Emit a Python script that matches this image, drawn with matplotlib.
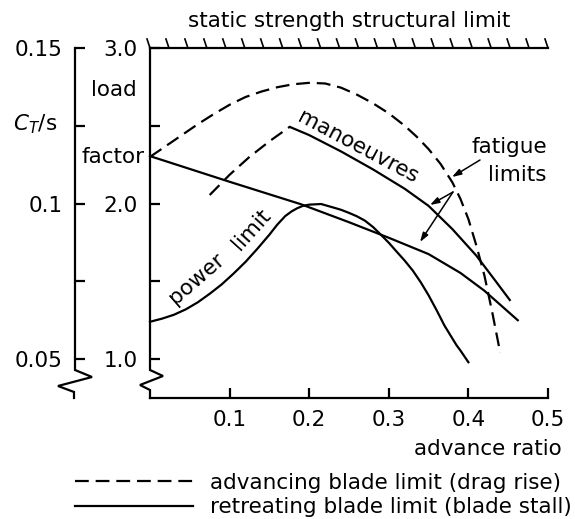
import numpy as np
import matplotlib
matplotlib.use('Agg')
import matplotlib.pyplot as plt
from matplotlib.lines import Line2D

plt.rcParams['font.family'] = ['DejaVu Sans']
plt.rcParams['mathtext.fontset'] = 'dejavusans'
FS = 15.5
LW = 1.6
DASH = (0, (6.2, 3.1))

# ---------------- data ----------------
# advancing blade limit (drag rise), steady flight
adv_mu = [0.0, 0.02, 0.04, 0.06, 0.08, 0.10, 0.12, 0.14, 0.16, 0.18, 0.20, 0.22,
          0.24, 0.26, 0.28, 0.30, 0.32, 0.335, 0.35, 0.365, 0.38, 0.39, 0.40,
          0.41, 0.42, 0.43, 0.44]
adv_load = [2.30, 2.37, 2.44, 2.51, 2.575, 2.635, 2.685, 2.72, 2.748, 2.767, 2.776,
            2.772, 2.745, 2.70, 2.645, 2.58, 2.50, 2.43, 2.35, 2.255, 2.135, 2.03,
            1.90, 1.73, 1.54, 1.30, 1.04]
# advancing blade limit, manoeuvre branch
advm_mu = [0.075, 0.10, 0.125, 0.15, 0.176]
advm_load = [2.055, 2.185, 2.30, 2.40, 2.495]
# manoeuvres (retreating blade limit)
man_mu = [0.176, 0.20, 0.24, 0.28, 0.32, 0.35, 0.38, 0.41, 0.43, 0.452]
man_load = [2.492, 2.44, 2.335, 2.22, 2.095, 1.985, 1.835, 1.665, 1.53, 1.38]
# retreating blade fatigue limit
ret_mu = [0.0, 0.10, 0.19, 0.25, 0.30, 0.35, 0.39, 0.42, 0.462]
ret_load = [2.305, 2.14, 1.995, 1.88, 1.78, 1.675, 1.554, 1.44, 1.25]
# power limit
pow_mu = [0.0, 0.015, 0.03, 0.045, 0.06, 0.075, 0.09, 0.105, 0.12, 0.135, 0.15,
          0.16, 0.17, 0.178, 0.185, 0.192, 0.20, 0.215, 0.23, 0.24, 0.25, 0.26,
          0.27, 0.28, 0.29, 0.30, 0.31, 0.32, 0.33, 0.34, 0.35, 0.36, 0.37,
          0.385, 0.39, 0.40]
pow_load = [1.24, 1.26, 1.285, 1.32, 1.365, 1.42, 1.48, 1.55, 1.625, 1.71, 1.80,
            1.865, 1.92, 1.95, 1.97, 1.985, 1.993, 1.997, 1.975, 1.96, 1.94, 1.918,
            1.89, 1.85, 1.80, 1.748, 1.69, 1.633, 1.57, 1.495, 1.41, 1.315, 1.215,
            1.09, 1.055, 0.98]

x_ticks = [0.1, 0.2, 0.3, 0.4, 0.5]
x_ticklabels = ['0.1', '0.2', '0.3', '0.4', '0.5']
load_ticks = [1.0, 1.5, 2.0, 2.5, 3.0]
load_ticklabels = ['1.0', '', '2.0', '', '3.0']
ct_ticks = [0.05, 0.075, 0.1, 0.125, 0.15]
ct_ticklabels = ['0.05', '', '0.1', '', '0.15']
ct_per_load = 0.05

# ---------------- figure ----------------
W, H = 575, 519
fig = plt.figure(figsize=(W / 100, H / 100), dpi=100)
AX_L, AX_R, AX_T, AX_B = 150, 548, 48, 398
ax = fig.add_axes([AX_L / W, 1 - AX_B / H, (AX_R - AX_L) / W, (AX_B - AX_T) / H])
XMIN, XMAX, YMIN, YMAX = 0.0, 0.5, 0.75, 3.0
ax.set_xlim(XMIN, XMAX)
ax.set_ylim(YMIN, YMAX)


def p2d(px, py):
    """pixel position -> data coordinates of the main axes"""
    x = XMIN + (px - AX_L) / (AX_R - AX_L) * (XMAX - XMIN)
    y = YMAX - (py - AX_T) / (AX_B - AX_T) * (YMAX - YMIN)
    return x, y


def ftext(px, py, s, **kw):
    fig.text(px / W, 1 - py / H, s, fontsize=FS, **kw)


for s in ['left', 'right']:
    ax.spines[s].set_visible(False)
for s in ['top', 'bottom']:
    ax.spines[s].set_linewidth(LW)

ax.set_xticks(x_ticks)
ax.set_xticklabels(x_ticklabels)
ax.set_yticks(load_ticks)
ax.set_yticklabels(load_ticklabels)
ax.tick_params(axis='both', direction='in', length=7, width=LW, labelsize=FS)
ax.tick_params(axis='y', pad=9)
ax.tick_params(axis='x', pad=9)

# left spine with break
zz_main = [(150, 48), (150, 370), (163, 376), (140, 385), (150, 390), (150, 398)]
xs, ys = zip(*[p2d(*p) for p in zz_main])
ax.plot(xs, ys, color='k', lw=LW, clip_on=False, solid_joinstyle='miter')

# outer C_T/s axis
sec = ax.secondary_yaxis((75 - AX_L) / (AX_R - AX_L),
                         functions=(lambda y: y * ct_per_load, lambda c: c / ct_per_load))
sec.set_yticks(ct_ticks)
sec.set_yticklabels(ct_ticklabels)
sec.spines['left'].set_visible(False)
sec.tick_params(axis='y', direction='in', length=7, width=LW, labelsize=FS, pad=9)
zz_out = [(75, 48), (75, 370), (92, 377), (58, 386), (74, 392), (74, 398)]
xs, ys = zip(*[p2d(*p) for p in zz_out])
ax.plot(xs, ys, color='k', lw=LW, clip_on=False, solid_joinstyle='miter')

# hatched structural limit
dx = p2d(AX_L + 3, 0)[0] - p2d(AX_L, 0)[0]
dy = p2d(0, AX_T - 9)[1] - YMAX
for xh in np.linspace(XMIN, XMAX, 22):
    ax.plot([xh - dx, xh], [YMAX + dy, YMAX], color='k', lw=1.2, clip_on=False)

# curves
ax.plot(adv_mu, adv_load, color='k', lw=LW, ls=DASH, clip_on=False)
ax.plot(advm_mu, advm_load, color='k', lw=LW, ls=DASH, clip_on=False)
ax.plot(man_mu, man_load, color='k', lw=LW, clip_on=False)
ax.plot(ret_mu, ret_load, color='k', lw=LW, clip_on=False)
ax.plot(pow_mu, pow_load, color='k', lw=LW, clip_on=False)

# fatigue arrows
ap = dict(arrowstyle='-|>,head_length=0.55,head_width=0.18', lw=1.1, color='k',
          shrinkA=0, shrinkB=0)
ax.annotate('', xy=p2d(452, 177), xytext=p2d(480, 160), arrowprops=ap)
ax.annotate('', xy=p2d(430, 205), xytext=p2d(453, 192), arrowprops=ap)
ax.annotate('', xy=p2d(420, 242), xytext=p2d(453, 192), arrowprops=ap)

# texts
ftext(349, 27, 'static strength structural limit', ha='center', va='baseline')
ftext(114, 96, 'load', ha='center', va='baseline')
ftext(145, 163, 'factor', ha='right', va='baseline')
ftext(35, 124, r'$C_T$/s', ha='center', va='center')
ftext(547, 147, 'fatigue', ha='right', va='center')
ftext(547, 175, 'limits', ha='right', va='center')
ftext(562, 449, 'advance ratio', ha='right', va='center')

tx, ty = p2d(358, 147)
ax.text(tx, ty, 'manoeuvres', fontsize=FS, rotation=-28, rotation_mode='anchor',
        ha='center', va='center')
tx, ty = p2d(197, 279)
ax.text(tx, ty, 'power', fontsize=FS, rotation=41, rotation_mode='anchor',
        ha='center', va='center')
tx, ty = p2d(251, 229)
ax.text(tx, ty, 'limit', fontsize=FS, rotation=48, rotation_mode='anchor',
        ha='center', va='center')

# legend
handles = [Line2D([], [], color='k', lw=LW, ls=DASH),
           Line2D([], [], color='k', lw=LW)]
labels = ['advancing blade limit (drag rise)', 'retreating blade limit (blade stall)']
fs_px = FS * 100 / 72
fig.legend(handles, labels, loc='upper left', bbox_to_anchor=(75 / W, 1 - 473 / H),
           bbox_transform=fig.transFigure, frameon=False, fontsize=FS,
           handlelength=118 / fs_px, handletextpad=17 / fs_px, borderpad=0,
           borderaxespad=0, labelspacing=0.2)

fig.savefig('out.png', dpi=100)
